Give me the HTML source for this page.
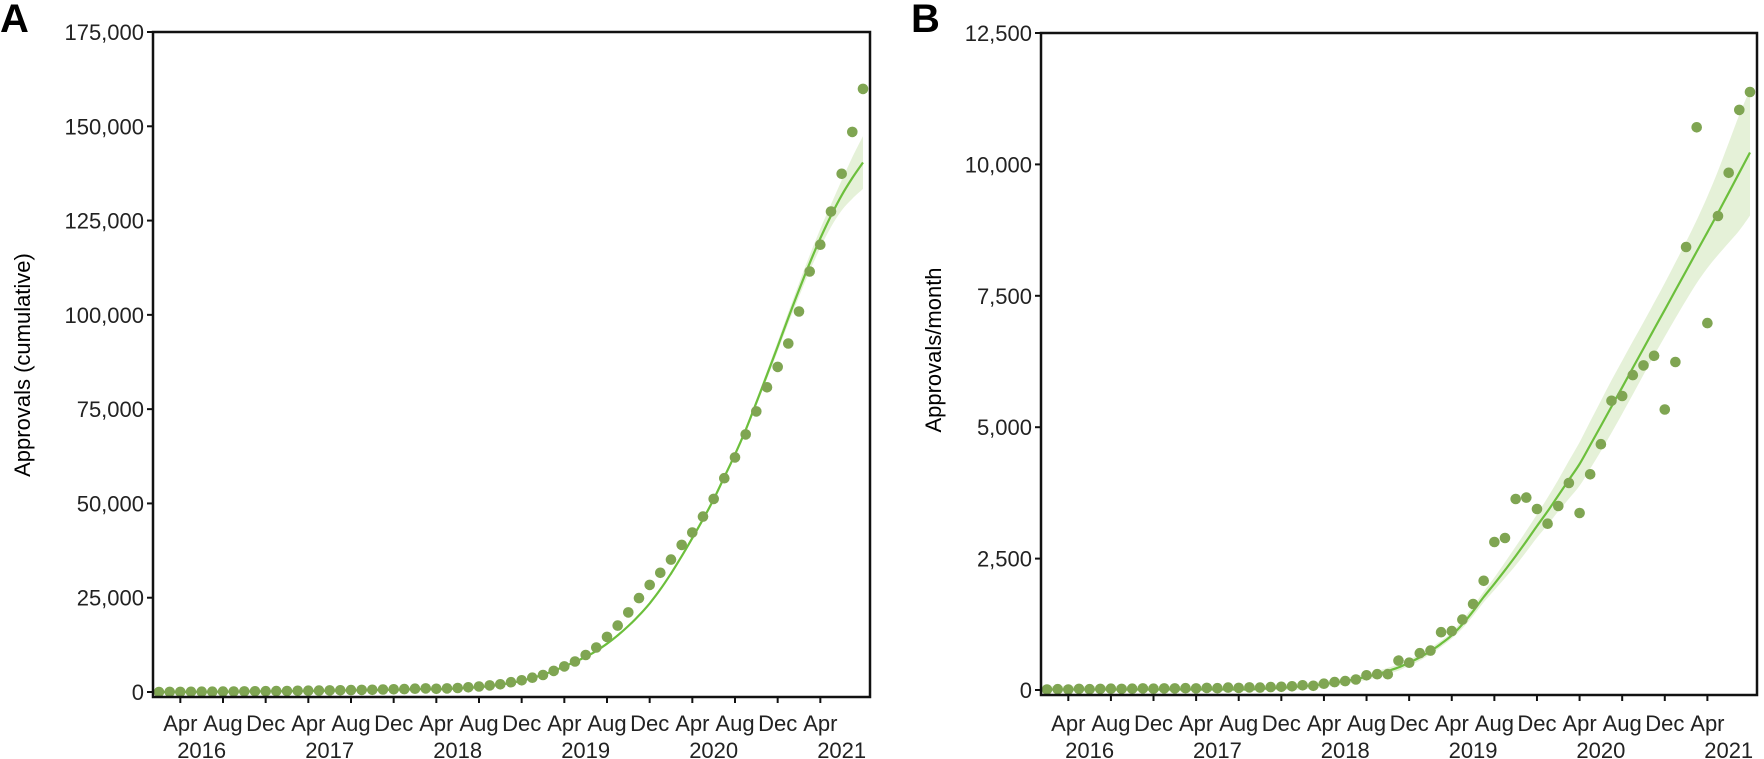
<!DOCTYPE html>
<html><head><meta charset="utf-8">
<style>
html,body{margin:0;padding:0;background:#fff;}
svg{display:block;font-family:"Liberation Sans",Arial,sans-serif;}
</style></head>
<body>
<svg id="chart" width="1764" height="759" viewBox="0 0 1764 759" xmlns="http://www.w3.org/2000/svg">
<text x="0" y="32" font-size="40" font-weight="bold">A</text>
<text x="911" y="32" font-size="40" font-weight="bold">B</text>
<text transform="translate(30,365) rotate(-90)" text-anchor="middle" font-size="22">Approvals (cumulative)</text>
<text transform="translate(941,350) rotate(-90)" text-anchor="middle" font-size="22">Approvals/month</text>
</svg>
<script>
// Monthly data, Feb 2016 .. Aug 2021 (67 months)
const cumulative = [10,25,35,55,70,90,115,135,160,190,215,245,275,310,340,380,415,460,500,550,595,650,710,780,870,950,850,950,1050,1250,1450,1750,2050,2600,3100,3800,4500,5600,6800,8100,9800,11800,14600,17600,21100,24900,28400,31600,35100,39000,42300,46500,51200,56700,62200,68300,74400,80800,86200,92400,100900,111500,118600,127400,137400,148500,159900];
const cumulativeFit = [5,15,25,40,55,70,90,110,130,155,180,205,230,260,290,320,355,390,430,470,510,560,610,660,720,780,700,800,950,1100,1300,1600,1950,2400,3000,3700,4600,5600,6800,8000,9300,10900,12800,15000,17500,20300,23500,27200,31400,36000,40800,45800,51100,57000,63000,69500,76700,84100,91600,99200,106600,113700,120300,126300,131700,136300,140400];
const cumulativeCI = [300,300,300,300,300,300,300,300,300,300,300,300,300,300,300,300,300,300,300,300,300,300,300,300,300,300,300,300,300,300,300,300,300,300,300,300,300,300,300,300,300,300,300,300,300,300,300,300,300,300,600,600,600,600,600,600,900,1100,1300,1500,1800,2100,2500,3000,4000,5500,7000];
const monthly = [10,15,10,20,15,20,25,20,25,30,25,30,30,35,30,40,35,45,40,50,45,55,60,70,90,80,120,150,170,200,280,300,300,560,520,700,750,1100,1120,1339,1636,2077,2816,2892,3634,3660,3443,3164,3500,3938,3368,4104,4676,5502,5594,5991,6176,6358,5337,6240,8428,10706,6981,9018,9840,11037,11378];
const monthlyFit = [10,10,10,10,10,10,10,10,10,10,10,10,10,10,10,10,10,10,10,10,20,30,40,55,70,90,110,140,170,210,250,300,360,430,520,620,740,880,1040,1250,1500,1770,2020,2280,2550,2830,3120,3400,3700,4000,4300,4660,5025,5392,5760,6128,6497,6866,7234,7603,7972,8341,8709,9077,9460,9843,10226];
const monthlyCI = [60,60,60,60,60,60,60,60,60,60,60,60,60,60,60,60,60,60,60,60,60,60,60,60,60,60,60,60,60,60,60,60,60,60,60,60,60,60,60,80,90,100,120,150,180,200,220,260,300,360,415,450,480,500,505,505,500,500,510,530,555,600,680,800,950,1100,1200];
const tickMonths = ["Apr","Aug","Dec","Apr","Aug","Dec","Apr","Aug","Dec","Apr","Aug","Dec","Apr","Aug","Dec","Apr"];
const yearLabels = ["2016","2017","2018","2019","2020","2021"];
const yTicksA = [0,25000,50000,75000,100000,125000,150000,175000];
const yTicksB = [0,2500,5000,7500,10000,12500];

const NS = "http://www.w3.org/2000/svg";
const svg = document.getElementById('chart');
function mk(tag, attrs, parent){const e=document.createElementNS(NS,tag);for(const k in attrs)e.setAttribute(k,attrs[k]);(parent||svg).appendChild(e);return e;}
const fmt = v => v.toLocaleString('en-US');

function smooth(pts, move){
  let d = (move ? 'M' : 'L') + pts[0][0].toFixed(1) + ',' + pts[0][1].toFixed(1);
  for(let i=0;i<pts.length-1;i++){
    const p0 = pts[Math.max(0,i-1)], p1 = pts[i], p2 = pts[i+1], p3 = pts[Math.min(pts.length-1,i+2)];
    const c1x = p1[0] + (p2[0]-p0[0])/6, c1y = p1[1] + (p2[1]-p0[1])/6;
    const c2x = p2[0] - (p3[0]-p1[0])/6, c2y = p2[1] - (p3[1]-p1[1])/6;
    d += 'C'+c1x.toFixed(1)+','+c1y.toFixed(1)+' '+c2x.toFixed(1)+','+c2y.toFixed(1)+' '+p2[0].toFixed(1)+','+p2[1].toFixed(1);
  }
  return d;
}

function panel(opts){
  const {x0,x1,yTop,yZero,yMax,vals,fit,ci,ticks,key} = opts;
  const g = mk('g',{});
  
  
  const xs = i => x0 + 6 + i*((x1 - x0 - 13)/66);
  const ys = v => yZero - v/yMax*(yZero-yTop);
  const upPts = fit.map((f,i)=>[xs(i), ys(f+ci[i])]);
  const loPts = fit.map((f,i)=>[xs(i), ys(Math.max(0,f-ci[i]))]).reverse();
  const band = mk('path',{d:smooth(upPts,true)+smooth(loPts,false)+'Z',fill:'#e5f1d8',stroke:'none'},g);
  
  
  const line = mk('path',{d:smooth(fit.map((f,i)=>[xs(i),ys(f)]),true),fill:'none',stroke:'#6cbf3c','stroke-width':2.2},g);
  
  
  for(let i=0;i<vals.length;i++){
    const c = mk('circle',{cx:xs(i).toFixed(1),cy:ys(vals[i]).toFixed(1),r:5.3,fill:'#7fa552'},g);
    
    
  }
  const yB = yZero + 5;
  const fr = mk('rect',{x:x0,y:yTop,width:x1-x0,height:yB-yTop,fill:'none',stroke:'#111','stroke-width':2.5},g);
  
  
  ticks.forEach(t=>{
    const y = ys(t);
    mk('line',{x1:x0-6,x2:x0,y1:y,y2:y,stroke:'#111','stroke-width':2},g);
    const tx = mk('text',{x:x0-9,y:y+8,'text-anchor':'end','font-size':22,fill:'#222'},g);
    tx.textContent = fmt(t);
    
    
  });
  tickMonths.forEach((m,k)=>{
    const x = xs(2+4*k);
    mk('line',{x1:x,x2:x,y1:yB,y2:yB+6,stroke:'#111','stroke-width':2},g);
    const tx = mk('text',{x:x,y:731,'text-anchor':'middle','font-size':22,fill:'#222'},g);
    tx.textContent = m;
    
    
  });
  yearLabels.forEach((yr,k)=>{
    const x = Math.min(xs(4+12*k), x1-12);
    const tx = mk('text',{x:x,y:758,'text-anchor':'middle','font-size':22,fill:'#222'},g);
    tx.textContent = yr;
    
    
  });
}
panel({x0:153,x1:870,yTop:32,yZero:692,yMax:175000,vals:cumulative,fit:cumulativeFit,ci:cumulativeCI,ticks:yTicksA,key:'panel-a'});
panel({x0:1041,x1:1757,yTop:33,yZero:690,yMax:12500,vals:monthly,fit:monthlyFit,ci:monthlyCI,ticks:yTicksB,key:'panel-b'});
</script>
</body></html>
